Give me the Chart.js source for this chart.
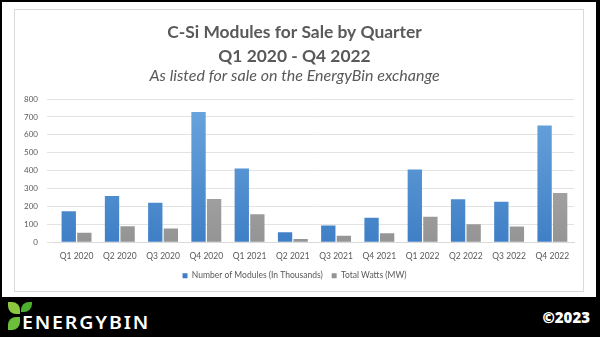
<!DOCTYPE html>
<html>
<head>
<meta charset="utf-8">
<script src="https://cdn.jsdelivr.net/npm/chart.js@4"></script>
<style>
    html, body { margin: 0; padding: 0; }
    body { width: 600px; height: 337px; background: #000; position: relative; overflow: hidden; font-family: Lato, sans-serif; }
    #painel { position: absolute; left: 2px; top: 2px; width: 594px; height: 295px; background: #fff; }
    #caixa { position: absolute; left: 14px; top: 9px; width: 568px; height: 281px; border: 1px solid #d9d9d9; }
    .folha { position: absolute; }
    #marca { position: absolute; left: 22px; top: 313px; color: #fff; font-family: "Noto Sans", sans-serif; font-weight: 600; font-size: 17px; line-height: 20px; letter-spacing: 1.6px; transform: scaleX(1.15); transform-origin: left; }
    #ano { position: absolute; right: 10px; top: 307px; color: #fff; font-family: "Open Sans", sans-serif; font-weight: 800; font-size: 15px; }
</style>
</head>
<body>
<div id="painel"></div>
<div id="caixa"><canvas id="grafico" width="568" height="281"></canvas></div>
<!-- logotipo do rodapé -->
<div class="folha" style="left:8px;top:302px;width:12px;height:12px;background:#8dc63f;border-radius:0 8px 0 8px;"></div>
<div class="folha" style="left:21px;top:302px;width:11px;height:10px;background:#4caf2e;border-radius:8px 0 8px 0;"></div>
<div class="folha" style="left:8px;top:317px;width:12px;height:13px;background:#6cbf3a;border-radius:8px 0 8px 0;"></div>
<div id="marca">ENERGYBIN</div>
<div id="ano">©2023</div>
<script>
// Dados do gráfico
const trimestres = ["Q1 2020", "Q2 2020", "Q3 2020", "Q4 2020", "Q1 2021", "Q2 2021",
    "Q3 2021", "Q4 2021", "Q1 2022", "Q2 2022", "Q3 2022", "Q4 2022"];
const modulos = [174, 258, 221, 727, 412, 56, 94, 137, 406, 240, 227, 652];
const watts = [54, 90, 77, 242, 157, 19, 36, 51, 142, 101, 88, 275];
const ticksY = [0, 100, 200, 300, 400, 500, 600, 700, 800];

// Gradiente vertical leve, estilo Excel
function gradiente(ctx, claro, escuro) {
    const area = ctx.chart.chartArea;
    if (!area) return escuro;
    const g = ctx.chart.ctx.createLinearGradient(0, area.top, 0, area.bottom);
    g.addColorStop(0, claro);
    g.addColorStop(1, escuro);
    return g;
}

const cinzaTexto = "#595959";

new Chart(document.getElementById("grafico"), {
    type: "bar",
    data: {
        labels: trimestres,
        datasets: [
            {
                label: "Number of Modules (In Thousands)",
                data: modulos,
                backgroundColor: (c) => gradiente(c, "#6ba7de", "#3f7fc6"),
                borderWidth: 0,
            },
            {
                label: "Total Watts (MW)",
                data: watts,
                backgroundColor: (c) => gradiente(c, "#b8b8b8", "#949494"),
                borderWidth: 0,
            },
        ],
    },
    options: {
        responsive: false,
        animation: false,
        categoryPercentage: 0.72,
        barPercentage: 0.92,
        layout: { padding: { left: 0, right: 9, bottom: 1 } },
        plugins: {
            title: {
                display: true,
                text: ["C-Si Modules for Sale by Quarter", "Q1 2020 - Q4 2022"],
                color: cinzaTexto,
                font: { family: "Lato", size: 17.4, weight: "bold", lineHeight: 1.38 },
                padding: { top: 10, bottom: 0 },
            },
            subtitle: {
                display: true,
                text: "As listed for sale on the EnergyBin exchange",
                color: cinzaTexto,
                font: { family: "Lato", size: 16, style: "italic", lineHeight: 1 },
                padding: { top: 0, bottom: 15 },
            },
            legend: {
                position: "bottom",
                labels: { color: cinzaTexto, boxWidth: 5, boxHeight: 5, padding: 9, font: { family: "Lato", size: 8.5 } },
            },
            tooltip: { enabled: false },
        },
        scales: {
            x: {
                grid: { display: false },
                border: { color: "#d9d9d9" },
                ticks: { color: cinzaTexto, font: { family: "Lato", size: 8.5 }, maxRotation: 0, padding: 1 },
            },
            y: {
                min: 0,
                max: 800,
                afterBuildTicks: (eixo) => { eixo.ticks = ticksY.map((v) => ({ value: v })); },
                grid: { color: "#e3e3e3" },
                border: { display: false },
                ticks: { color: cinzaTexto, font: { family: "Lato", size: 8 }, padding: 9 },
            },
        },
    },
});
</script>
</body>
</html>
